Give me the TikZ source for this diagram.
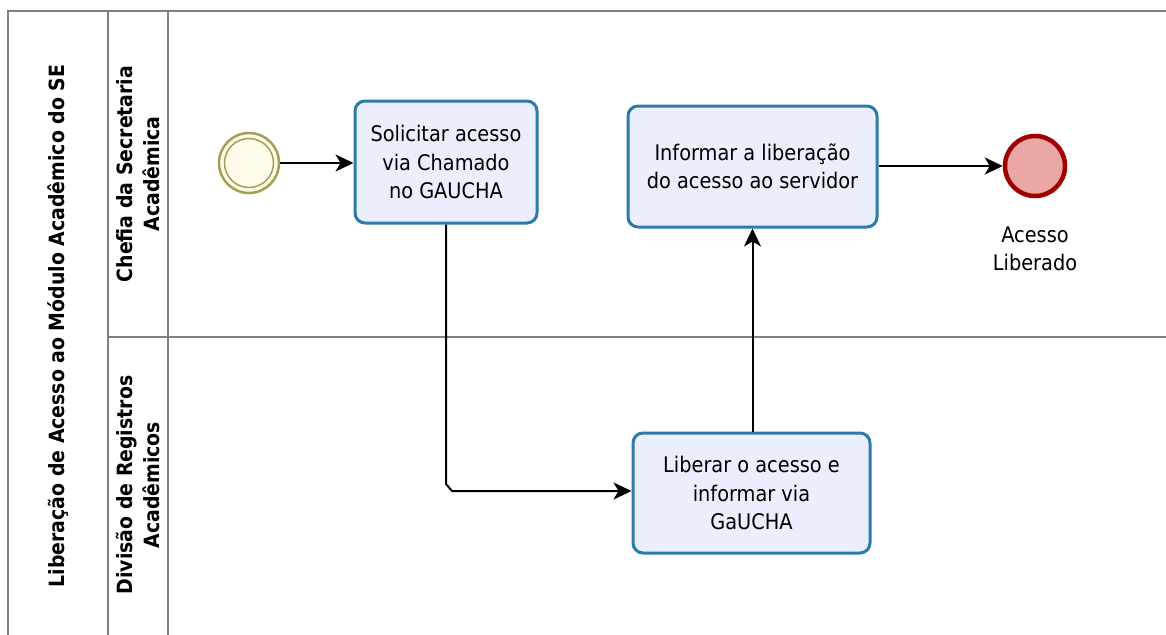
\documentclass[tikz,border=0pt]{standalone}
\usepackage{fontspec}
\setmainfont{DejaVu Sans Condensed}
\usetikzlibrary{arrows.meta}
\definecolor{taskfill}{HTML}{EBEEFC}
\definecolor{taskdraw}{HTML}{2C7BA8}
\definecolor{endfill}{HTML}{EBA6A6}
\definecolor{enddraw}{HTML}{A00000}
\definecolor{startfill}{HTML}{FFFBEA}
\definecolor{startdraw}{HTML}{A3A055}
\definecolor{poolline}{HTML}{808080}
\tikzset{
  x=1pt,y=-1pt,
  task/.style={draw=taskdraw,fill=taskfill,line width=3pt,rounded corners=10pt,align=center,font=\fontsize{21.5}{28.5}\selectfont,inner sep=0pt},
  flow/.style={draw=black,line width=2pt,-{Stealth[length=18pt,width=17pt,inset=5pt]}},
  pool/.style={draw=poolline,line width=2pt},
  lanetitle/.style={rotate=90,align=center,font=\bfseries\fontsize{21}{27}\selectfont},
  lbl/.style={align=center,font=\fontsize{21.5}{28.5}\selectfont}
}
\begin{document}
\begin{tikzpicture}
\useasboundingbox (0,0) rectangle (1166,634);
% pool lines
\draw[pool] (8,640) -- (8,11) -- (1170,11);
\draw[pool] (108,11) -- (108,640);
\draw[pool] (168,11) -- (168,640);
\draw[pool] (108,337) -- (1170,337);
% titles
\node[lanetitle] (pooltitle) at (58,326) {Liberação de Acesso ao Módulo Acadêmico do SE};
\node[lanetitle] (lane1) at (138,174) {Chefia da Secretaria\\Acadêmica};
\node[lanetitle] (lane2) at (138,485) {Divisão de Registros\\Acadêmicos};
% events
\node[circle,draw=startdraw,line width=2.5pt,fill=startfill,minimum size=60pt,inner sep=0pt] (start) at (249,163) {};
\node[circle,draw=startdraw,line width=1.5pt,minimum size=49pt,inner sep=0pt] (startin) at (249,163) {};
\node[circle,draw=enddraw,fill=endfill,line width=4.5pt,minimum size=60pt,inner sep=0pt] (end) at (1035,166) {};
\node[lbl] (endlbl) at (1035,249) {Acesso\\Liberado};
% tasks
\node[task,minimum width=182pt,minimum height=122pt] (t1) at (446,162) {Solicitar acesso\\via Chamado\\no GAUCHA};
\node[task,minimum width=249pt,minimum height=121pt] (t2) at (752.5,166.5) {Informar a liberação\\do acesso ao servidor};
\node[task,minimum width=237pt,minimum height=120pt] (t3) at (751.5,493) {Liberar o acesso e\\informar via\\GaUCHA};
% flows
\draw[flow] (start.east) -- (start.east -| t1.west);
\coordinate (c1) at (446,484);
\coordinate (c2) at (452,491);
\draw[flow] (t1.south) -- (c1) -- (c2) -- (t3.west |- c2);
\draw[flow] (t3.north -| t2.south) -- (t2.south);
\draw[flow] (t2.east |- end) -- (end.west);
\end{tikzpicture}
\end{document}
